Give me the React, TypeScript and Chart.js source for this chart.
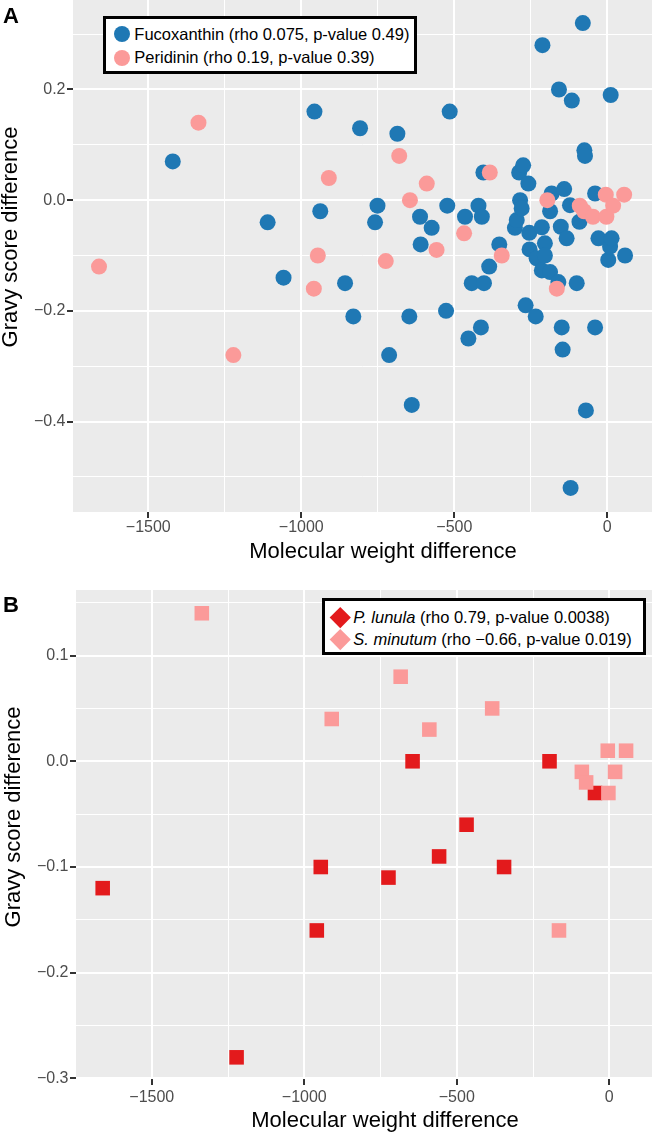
import React, { useEffect, useRef } from "react";
import { Chart, registerables } from "chart.js";

Chart.register(...registerables);

// ---------- Data (panel A) ----------
const fucoxanthinX = [-1420, -1110, -1058, -957, -938, -857, -830, -808, -759, -751, -713, -686, -647, -639, -612, -610, -574, -527, -523, -515, -465, -454, -443, -421, -413, -410, -405, -403, -386, -353, -302, -296, -288, -285, -280, -275, -267, -258, -255, -254, -234, -231, -214, -214, -212, -204, -204, -187, -187, -182, -160, -158, -152, -149, -146, -141, -133, -122, -120, -116, -100, -91, -80, -75, -73, -70, -40, -40, -29, 3, 9, 11, 14, 58];
const fucoxanthinY = [0.07, -0.04, -0.14, 0.16, -0.02, -0.15, -0.21, 0.13, -0.04, -0.01, -0.28, 0.12, -0.21, -0.37, -0.03, -0.08, -0.05, -0.2, -0.01, 0.16, -0.03, -0.25, -0.15, -0.01, -0.23, -0.03, 0.05, -0.15, -0.12, -0.08, -0.05, -0.036, 0.05, 0.0, -0.015, 0.063, -0.19, 0.03, -0.059, -0.089, -0.21, -0.105, -0.049, -0.127, 0.28, -0.078, -0.1, -0.02, -0.13, 0.012, -0.148, 0.2, -0.048, -0.23, -0.27, 0.02, -0.069, -0.009, -0.52, 0.18, -0.15, -0.039, 0.32, 0.09, 0.08, -0.38, 0.012, -0.23, -0.069, -0.108, -0.084, 0.19, -0.069, -0.1];
const peridininX = [-1661, -1336, -1222, -959, -946, -910, -724, -680, -645, -590, -558, -468, -384, -345, -196, -165, -90, -76, -47, -5, -3, 19, 55];
const peridininY = [-0.12, 0.14, -0.28, -0.16, -0.1, 0.04, -0.11, 0.08, 0.0, 0.03, -0.09, -0.06, 0.05, -0.1, 0.0, -0.16, -0.01, -0.02, -0.03, 0.01, -0.03, -0.01, 0.01];

// ---------- Data (panel B) ----------
const lunulaX = [-1661, -1222, -959, -946, -724, -645, -558, -468, -345, -196, -47];
const lunulaY = [-0.12, -0.28, -0.16, -0.1, -0.11, 0.0, -0.09, -0.06, -0.1, 0.0, -0.03];
const minutumX = [-1336, -910, -684, -590, -384, -165, -90, -76, -5, -3, 19, 55];
const minutumY = [0.14, 0.04, 0.08, 0.03, 0.05, -0.16, -0.01, -0.02, 0.01, -0.03, -0.01, 0.01];

// ---------- Ticks ----------
const xTicks = [-1500, -1250, -1000, -750, -500, -250, 0];
const xMajor = [-1500, -1000, -500, 0];
const yTicksA = [-0.5, -0.4, -0.3, -0.2, -0.1, 0, 0.1, 0.2, 0.3];
const yMajorA = [-0.4, -0.2, 0, 0.2];
const yTicksB = [-0.3, -0.25, -0.2, -0.15, -0.1, -0.05, 0, 0.05, 0.1, 0.15];
const yMajorB = [-0.3, -0.2, -0.1, 0, 0.1];

const FONT = "'Liberation Sans', Arial, Helvetica, sans-serif";
const MINUS = "\u2212";

const near = (v: number, list: number[]) => list.some((m) => Math.abs(m - v) < 1e-9);
const fmtX = (v: number) => (v === 0 ? "0" : (v < 0 ? MINUS : "") + Math.abs(v));
const fmtY = (v: number) => (v < -1e-9 ? MINUS : "") + Math.abs(v).toFixed(1);

const panelBg = {
  id: "panelBg",
  beforeDraw(chart: any) {
    const { ctx, chartArea: a } = chart;
    ctx.save();
    ctx.fillStyle = "#EBEBEB";
    ctx.fillRect(a.left, a.top, a.right - a.left, a.bottom - a.top);
    ctx.restore();
  },
};

type PanelCfg = {
  height: number;
  yAxisWidth: number;
  xAxisHeight: number;
  xMin: number;
  xMax: number;
  yMin: number;
  yMax: number;
  yTicks: number[];
  yMajor: number[];
  xPad: number;
  yPad: number;
  datasets: any[];
};

const zeroPad = (s: any) => {
  s.paddingTop = 0;
  s.paddingBottom = 0;
  s.paddingLeft = 0;
  s.paddingRight = 0;
};

function makeChart(canvas: HTMLCanvasElement, cfg: PanelCfg) {
  const gridFor = (major: number[]) => ({
    color: "#FFFFFF",
    lineWidth: (c: any) => (c.tick && near(c.tick.value, major) ? 2 : 1),
    tickColor: (c: any) => (c.tick && near(c.tick.value, major) ? "#333333" : "rgba(0,0,0,0)"),
    tickWidth: 2,
    tickLength: 6,
    drawTicks: true,
  });
  return new Chart(canvas, {
    type: "scatter",
    data: { datasets: cfg.datasets },
    options: {
      animation: false,
      responsive: false,
      devicePixelRatio: 1,
      layout: { padding: 0, autoPadding: false },
      plugins: { legend: { display: false }, tooltip: { enabled: false } },
      scales: {
        x: {
          type: "linear",
          min: cfg.xMin,
          max: cfg.xMax,
          afterBuildTicks: (s: any) => {
            s.ticks = xTicks.map((v) => ({ value: v }));
          },
          afterFit: (s: any) => {
            s.height = cfg.xAxisHeight;
            zeroPad(s);
          },
          ticks: {
            autoSkip: false,
            maxRotation: 0,
            padding: cfg.xPad,
            color: "#4D4D4D",
            font: { family: FONT, size: 16 },
            callback: (v: any) => (near(Number(v), xMajor) ? fmtX(Number(v)) : ""),
          },
          grid: gridFor(xMajor),
          border: { display: false },
        },
        y: {
          type: "linear",
          min: cfg.yMin,
          max: cfg.yMax,
          afterBuildTicks: (s: any) => {
            s.ticks = cfg.yTicks.map((v) => ({ value: v }));
          },
          afterFit: (s: any) => {
            s.width = cfg.yAxisWidth;
            zeroPad(s);
          },
          ticks: {
            autoSkip: false,
            padding: cfg.yPad,
            color: "#4D4D4D",
            font: { family: FONT, size: 16 },
            callback: (v: any) => (near(Number(v), cfg.yMajor) ? fmtY(Number(v)) : ""),
          },
          grid: gridFor(cfg.yMajor),
          border: { display: false },
        },
      },
    },
    plugins: [panelBg],
  } as any);
}

function Panel({ top, cfg }: { top: number; cfg: PanelCfg }) {
  const ref = useRef<HTMLCanvasElement>(null);
  useEffect(() => {
    const chart = makeChart(ref.current!, cfg);
    return () => chart.destroy();
  }, []);
  return (
    <canvas
      ref={ref}
      width={652}
      height={cfg.height}
      style={{ position: "absolute", left: 0, top, width: 652, height: cfg.height }}
    />
  );
}

const toPoints = (xs: number[], ys: number[]) => xs.map((x, i) => ({ x, y: ys[i] }));

const BLUE = "#1F78B4";
const PINK = "#FB9A99";
const RED = "#E31A1C";

const cfgA: PanelCfg = {
  height: 590,
  yAxisWidth: 73,
  xAxisHeight: 78,
  xMin: -1746,
  xMax: 146,
  yMin: -0.5635,
  yMax: 0.3617,
  yTicks: yTicksA,
  yMajor: yMajorA,
  xPad: 0,
  yPad: 1.5,
  datasets: [
    {
      label: "Peridinin",
      data: toPoints(peridininX, peridininY),
      backgroundColor: PINK,
      pointStyle: "circle",
      pointRadius: 8,
      pointHoverRadius: 8,
      pointBorderWidth: 0,
      borderWidth: 0,
    },
    {
      label: "Fucoxanthin",
      data: toPoints(fucoxanthinX, fucoxanthinY),
      backgroundColor: BLUE,
      pointStyle: "circle",
      pointRadius: 8,
      pointHoverRadius: 8,
      pointBorderWidth: 0,
      borderWidth: 0,
    },
  ],
};

const cfgB: PanelCfg = {
  height: 543,
  yAxisWidth: 76,
  xAxisHeight: 54,
  xMin: -1748.5,
  xMax: 140,
  yMin: -0.3005,
  yMax: 0.162,
  yTicks: yTicksB,
  yMajor: yMajorB,
  xPad: 3,
  yPad: 1.5,
  datasets: [
    {
      label: "S. minutum",
      data: toPoints(minutumX, minutumY),
      backgroundColor: PINK,
      pointStyle: "rect",
      pointRadius: 10.3,
      pointHoverRadius: 10.3,
      pointBorderWidth: 0,
      borderWidth: 0,
    },
    {
      label: "P. lunula",
      data: toPoints(lunulaX, lunulaY),
      backgroundColor: RED,
      pointStyle: "rect",
      pointRadius: 10.3,
      pointHoverRadius: 10.3,
      pointBorderWidth: 0,
      borderWidth: 0,
    },
  ],
};

// text helper: positions text so that its cap-centre sits at `cy`
function Row({ left, cy, size, children }: { left: number; cy: number; size: number; children: any }) {
  return (
    <div
      style={{
        position: "absolute",
        left,
        top: cy - 0.4885 * size,
        fontSize: size,
        lineHeight: `${size}px`,
        fontFamily: FONT,
        whiteSpace: "nowrap",
        color: "#000",
      }}
    >
      {children}
    </div>
  );
}

function XTitle({ cx, baseline }: { cx: number; baseline: number }) {
  const size = 22;
  return (
    <div
      style={{
        position: "absolute",
        left: cx,
        top: baseline - 0.8465 * size,
        transform: "translateX(-50%)",
        fontSize: size,
        lineHeight: `${size}px`,
        fontFamily: FONT,
        whiteSpace: "nowrap",
        color: "#000",
      }}
    >
      Molecular weight difference
    </div>
  );
}

function YTitle({ cx, cy }: { cx: number; cy: number }) {
  const size = 22;
  return (
    <div
      style={{
        position: "absolute",
        left: cx,
        top: cy,
        transform: "translate(-50%, -50%) rotate(-90deg)",
        fontSize: size,
        lineHeight: `${size}px`,
        fontFamily: FONT,
        whiteSpace: "nowrap",
        color: "#000",
      }}
    >
      Gravy score difference
    </div>
  );
}

function Letter({ text, capTop }: { text: string; capTop: number }) {
  const size = 22;
  return (
    <div
      style={{
        position: "absolute",
        left: 3,
        top: capTop + 0.716 * size - 0.8465 * size,
        fontSize: size,
        lineHeight: `${size}px`,
        fontFamily: FONT,
        fontWeight: "bold",
        color: "#000",
      }}
    >
      {text}
    </div>
  );
}

export default function App() {
  const legSize = 16.5;
  return (
    <div
      style={{
        position: "absolute",
        left: 0,
        top: 0,
        width: 652,
        height: 1133,
        background: "#FFFFFF",
        overflow: "hidden",
      }}
    >
      <Panel top={0} cfg={cfgA} />
      <Panel top={590} cfg={cfgB} />

      <Letter text="A" capTop={7.5} />
      <Letter text="B" capTop={597} />

      <YTitle cx={10} cy={237} />
      <YTitle cx={13} cy={817} />
      <XTitle cx={383} baseline={558.5} />
      <XTitle cx={385} baseline={1128} />

      {/* Legend A */}
      <div
        style={{
          position: "absolute",
          left: 103,
          top: 16,
          width: 314,
          height: 58,
          boxSizing: "border-box",
          border: "3px solid #000",
          background: "#FFFFFF",
        }}
      />
      <div style={{ position: "absolute", left: 121.7 - 8, top: 34 - 8, width: 16, height: 16, borderRadius: 8, background: BLUE }} />
      <div style={{ position: "absolute", left: 121.7 - 8, top: 57.5 - 8, width: 16, height: 16, borderRadius: 8, background: PINK }} />
      <Row left={134.3} cy={34} size={legSize}>Fucoxanthin (rho 0.075, p-value 0.49)</Row>
      <Row left={134.3} cy={57.5} size={legSize}>Peridinin (rho 0.19, p-value 0.39)</Row>

      {/* Legend B */}
      <div
        style={{
          position: "absolute",
          left: 322,
          top: 598,
          width: 324,
          height: 57,
          boxSizing: "border-box",
          border: "3px solid #000",
          background: "#FFFFFF",
        }}
      />
      <div style={{ position: "absolute", left: 340 - 7.25, top: 617 - 7.25, width: 14.5, height: 14.5, background: RED, transform: "rotate(45deg)" }} />
      <div style={{ position: "absolute", left: 340 - 7.25, top: 639.5 - 7.25, width: 14.5, height: 14.5, background: PINK, transform: "rotate(45deg)" }} />
      <Row left={353.3} cy={617} size={legSize}>
        <i>P. lunula</i> (rho 0.79, p-value 0.0038)
      </Row>
      <Row left={353.3} cy={639.5} size={legSize}>
        <i>S. minutum</i> (rho {MINUS}0.66, p-value 0.019)
      </Row>
    </div>
  );
}
